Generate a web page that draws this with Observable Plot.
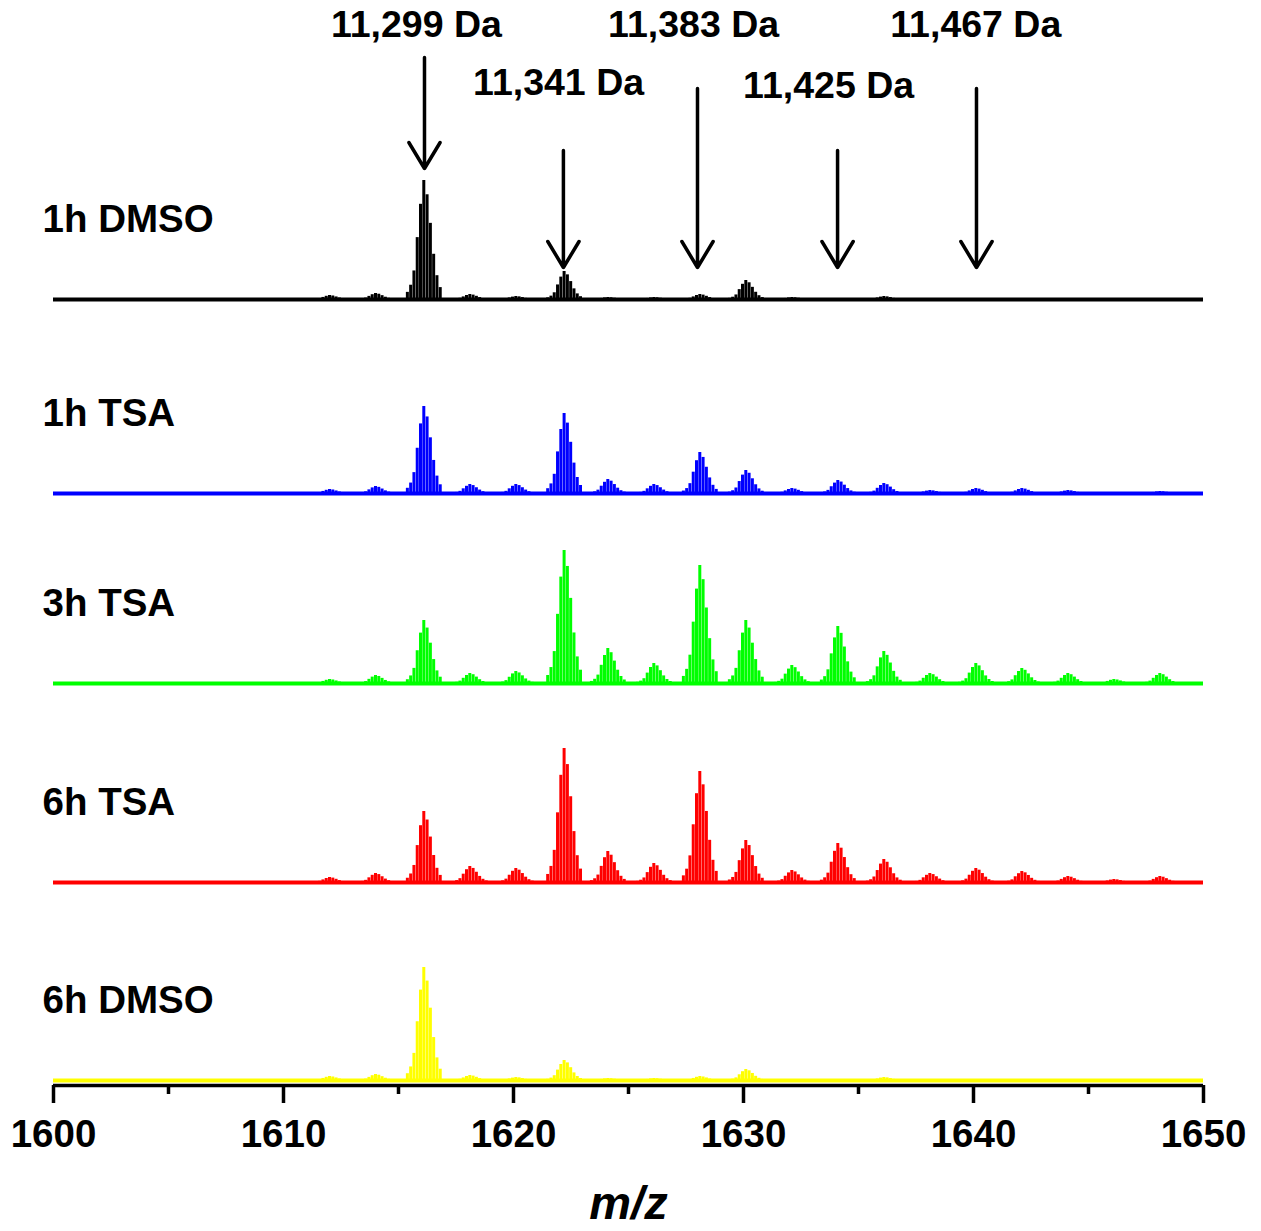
<!DOCTYPE html>
<html>
<head>
<meta charset="utf-8">
<script src="https://cdn.jsdelivr.net/npm/d3@7"></script>
<script src="https://cdn.jsdelivr.net/npm/@observablehq/plot@0.6"></script>
<style>
  html, body { margin: 0; padding: 0; background: #fff; }
  #chart { width: 1261px; height: 1231px; }
</style>
</head>
<body>
<div id="chart"></div>
<script>
// ---------------- data ----------------
const traces = ["1h DMSO", "1h TSA", "3h TSA", "6h TSA", "6h DMSO"];
const traceColors = ["#000000", "#0000ff", "#00ff00", "#ff0000", "#ffff00"];

// centres (m/z) of the isotope clusters seen in the spectra
const clusterMz = [1612.0, 1614.0, 1616.1, 1618.1, 1620.1, 1622.2, 1624.1, 1626.1, 1628.1, 1630.1,
                   1632.1, 1634.1, 1636.1, 1638.1, 1640.1, 1642.1, 1644.1, 1646.1, 1648.1];

// cluster apex intensities (a.u.) per trace, aligned with clusterMz
const int1hDMSO = [4, 6, 119, 5, 3, 28, 2, 2, 5, 19, 2, 1, 3, 1, 1, 1, 1, 0, 0];
const int1hTSA  = [4, 7, 87, 9, 9, 80, 14, 9, 41, 23, 5, 13, 10, 3, 5, 5, 3, 1, 2];
const int3hTSA  = [4, 8, 63, 10, 12, 133, 35, 20, 118, 63, 18, 57, 32, 10, 20, 15, 10, 4, 10];
const int6hTSA  = [5, 9, 71, 16, 14, 134, 31, 19, 111, 42, 12, 39, 23, 9, 14, 11, 6, 3, 6];
const int6hDMSO = [4, 6, 113, 5, 3, 20, 2, 2, 4, 11, 1, 1, 3, 1, 1, 1, 1, 0, 0];
const traceIntensities = [int1hDMSO, int1hTSA, int3hTSA, int6hTSA, int6hDMSO];

// isotope envelope (relative heights of the isotope lines of one cluster, z = 7)
const isotopeSpacing = 1 / 7;
const isotopePattern = [0.06, 0.12, 0.24, 0.52, 0.8, 1.0, 0.88, 0.64, 0.38, 0.2, 0.1];

// annotations
const annLabels  = ["11,299 Da", "11,341 Da", "11,383 Da", "11,425 Da", "11,467 Da"];
const annArrowMz = [1616.13, 1622.17, 1628.0, 1634.09, 1640.13];
const annLabelMz = [1615.78, 1621.96, 1627.83, 1633.7, 1640.1];

// axis ticks
const majorTicks = [1600, 1610, 1620, 1630, 1640, 1650];
const minorTicks = [1605, 1615, 1625, 1635, 1645];

// ---------------- layout ----------------
const W = 1261, H = 1231;
const traceOffset = [786, 592, 402, 203, 5];     // vertical stacking offsets (a.u.)
const labelRise = 80;                            // trace label height above its baseline
const annLabelY  = [1061, 1003, 1061, 1000, 1061];
const annArrowTop = [1028, 935, 997, 935, 997];
const annArrowTip = [917, 818, 818, 818, 818];

const sticks = [];
traces.forEach((t, ti) => {
  traceIntensities[ti].forEach((h, ci) => {
    isotopePattern.forEach((r, ii) => {
      const v = h * r;
      if (v < 0.6) return;
      sticks.push({
        trace: t,
        mz: clusterMz[ci] + (ii - 5) * isotopeSpacing,
        y1: traceOffset[ti],
        y2: traceOffset[ti] + v
      });
    });
  });
});

const baseRows = traces.map((t, ti) => ({trace: t, y: traceOffset[ti]}));
const labelRows = traces.map((t, ti) => ({trace: t, y: traceOffset[ti] + labelRise}));
const annRows = annLabels.map((l, i) => ({
  label: l, mz: annArrowMz[i], lx: annLabelMz[i], ly: annLabelY[i],
  top: annArrowTop[i], tip: annArrowTip[i]
}));

const font = "'Liberation Sans', Arial, Helvetica, sans-serif";

const chart = Plot.plot({
  width: W,
  height: H,
  marginLeft: 53,
  marginRight: 58,
  marginTop: 0,
  marginBottom: 146,
  style: {background: "white", fontFamily: font, overflow: "visible"},
  x: {domain: [1600, 1650], label: null},
  y: {domain: [0, 1085], axis: null},
  color: {domain: traces, range: traceColors},
  marks: [
    // baselines of each trace
    Plot.ruleY(baseRows, {y: "y", stroke: "trace", strokeWidth: 3.8, x1: 1600, x2: 1650}),
    // isotope lines
    Plot.ruleX(sticks, {x: "mz", y1: "y1", y2: "y2", stroke: "trace", strokeWidth: 3}),
    // trace labels
    Plot.text(labelRows, {x: 1600, y: "y", text: "trace", textAnchor: "start", dx: -11,
      fontSize: 38.5, fontWeight: "bold", fill: "black"}),
    // arrows
    Plot.arrow(annRows, {x1: "mz", x2: "mz", y1: "top", y2: "tip", stroke: "black",
      strokeWidth: 3.5, headLength: 13, headAngle: 62}),
    Plot.text(annRows, {x: "lx", y: "ly", text: "label", fontSize: 37.5,
      fontWeight: "bold", fill: "black"}),
    // x axis
    Plot.ruleY([0], {strokeWidth: 3.5, stroke: "black"}),
    Plot.axisX({ticks: majorTicks, tickSize: 18, tickPadding: 16, fontSize: 38.5,
      fontWeight: "bold", strokeWidth: 3.5, tickFormat: (d) => String(d)}),
    Plot.axisX({ticks: minorTicks, tickSize: 9, strokeWidth: 3.5, tickFormat: () => ""}),
    Plot.text(["m/z"], {frameAnchor: "bottom", dy: 133, fontSize: 47, fontWeight: "bold",
      fontStyle: "italic", fill: "black"})
  ]
});

document.getElementById("chart").appendChild(chart);
</script>
</body>
</html>
